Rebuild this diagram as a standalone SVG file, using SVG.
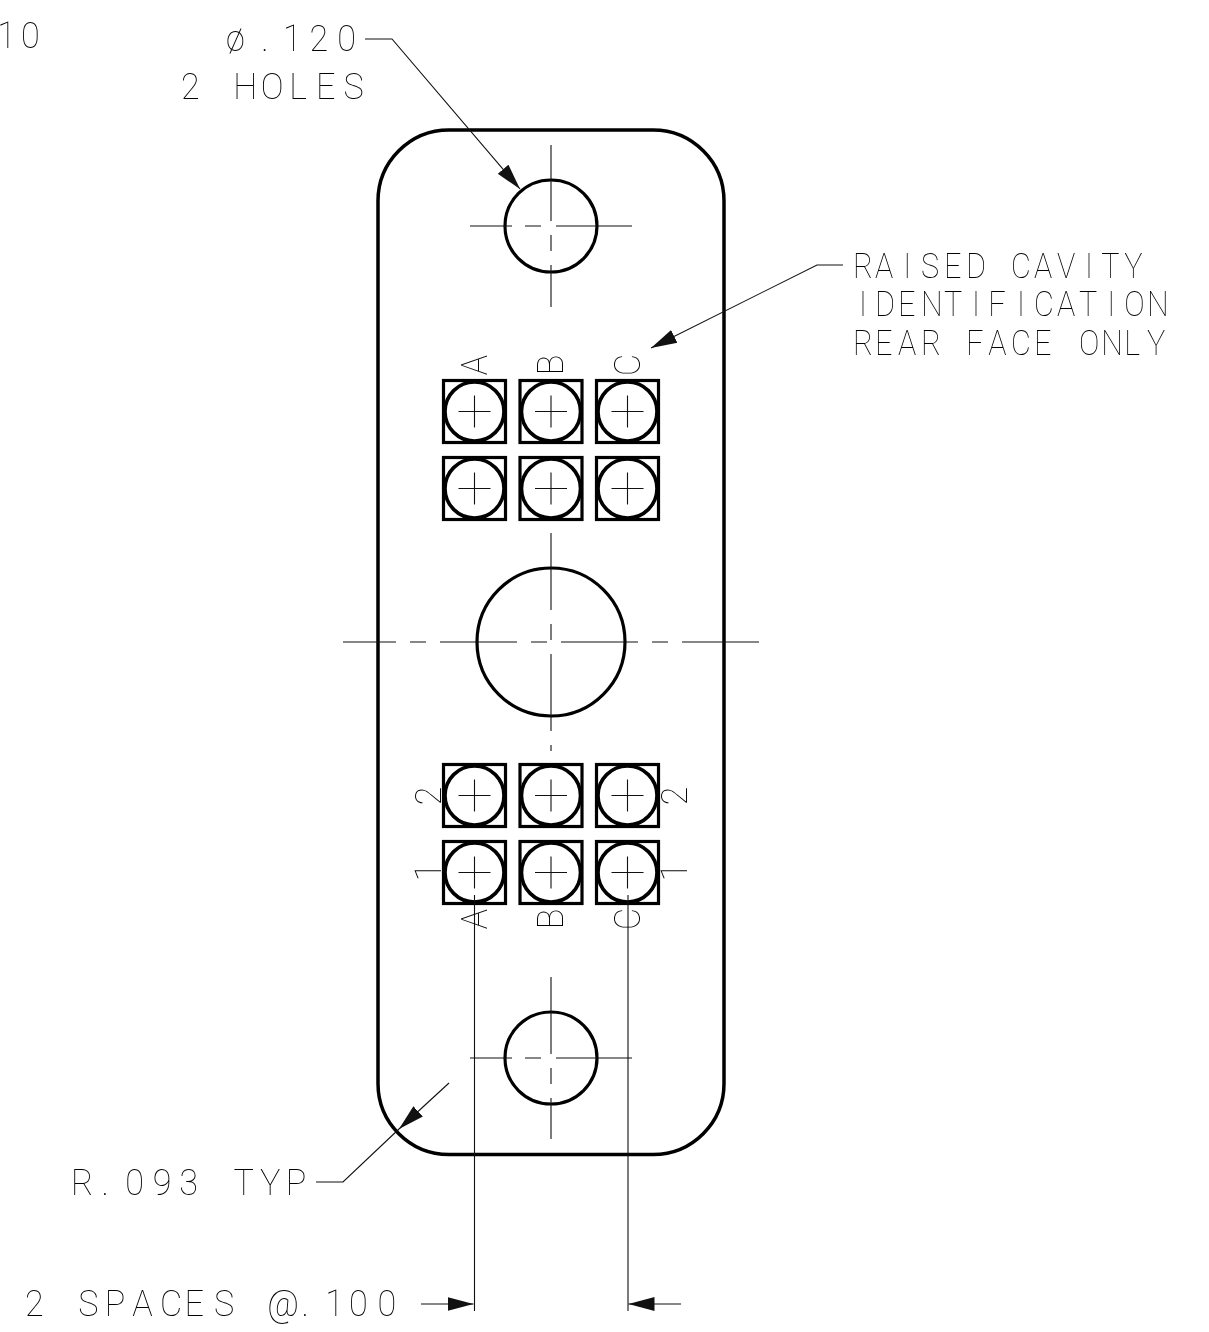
<svg xmlns="http://www.w3.org/2000/svg" xmlns:xlink="http://www.w3.org/1999/xlink" width="1209" height="1332" viewBox="0 0 1209 1332">
<style>
text{font-family:"Roboto","Liberation Sans",sans-serif;font-weight:100;font-size:36px;fill:#000}
.o{fill:none;stroke:#000;stroke-width:3.2}
.t{fill:none;stroke:#111;stroke-width:1.1}
#labels{opacity:.99}
</style>
<defs>
<marker id="head" markerUnits="userSpaceOnUse" markerWidth="30" markerHeight="20" refX="26" refY="8" orient="auto"><path d="M0 1L26 8L0 15Z" fill="#111"/></marker>
<g id="cav"><rect class="o" x="-31" y="-31" width="62" height="62"/><circle class="o" cx="0" cy="0" r="29.500" style="stroke-width:3.6"/><path class="t" d="M-16 0H16M0-16V16"/></g>
</defs>
<rect width="1209" height="1332" fill="#fff"/>
<g id="plate"><rect class="o" x="378" y="130" width="346" height="1024.500" rx="71" ry="71" style="stroke-width:3.5"/></g>
<g id="hole-top"><circle class="o" cx="551" cy="226" r="46"/><path class="t" d="M470 226H512M525 226H541M556 226H632M551 145V221M551 235V251M551 265V307"/></g>
<g id="hole-center"><circle class="o" cx="551" cy="642" r="74"/><path class="t" d="M343 642H396M410 642H426M440 642H517M531 642H547M561 642H638M652 642H668M682 642H759M551 533V610M551 624V640M551 654V731M551 745V751"/></g>
<g id="hole-bottom"><circle class="o" cx="551" cy="1058" r="46"/><path class="t" d="M470 1058H512M525 1058H541M556 1058H632M551 977V1054M551 1068V1084M551 1098V1139"/></g>
<g id="cavities">
<use href="#cav" x="474.500" y="411.500"/><use href="#cav" x="551" y="411.500"/><use href="#cav" x="627.500" y="411.500"/>
<use href="#cav" x="474.500" y="488.500"/><use href="#cav" x="551" y="488.500"/><use href="#cav" x="627.500" y="488.500"/>
<use href="#cav" x="474.500" y="795.500"/><use href="#cav" x="551" y="795.500"/><use href="#cav" x="627.500" y="795.500"/>
<use href="#cav" x="474.500" y="872.500"/><use href="#cav" x="551" y="872.500"/><use href="#cav" x="627.500" y="872.500"/>
</g>
<g id="connectors">
<path class="t" d="M365 39H392L520 189" marker-end="url(#head)"/>
<path class="t" d="M843 265H817L651 348" marker-end="url(#head)"/>
<path class="t" d="M316 1182H343L399 1129"/>
<path class="t" d="M449 1083L399 1129" marker-end="url(#head)"/>
<path class="t" d="M474.500 895V1311M628 895V1311"/>
<path class="t" d="M421 1304H473.500" marker-end="url(#head)"/>
<path class="t" d="M681 1304H628.500" marker-end="url(#head)"/>
</g>
<g id="labels">
<text transform="translate(0 48) scale(.95 1)" x="-3 22">10</text>
<text transform="translate(226 51) scale(.95 1)" x="0 37 60 88 117">ø.120</text>
<text transform="translate(181 99) scale(.95 1)" x="0 28 55 84 114 142 171">2 HOLES</text>
<text transform="translate(71 1195) scale(.95 1)" x="0 32 57 86 114 142 171 199 226">R.093 TYP</text>
<text transform="translate(25 1316) scale(.95 1)" x="0 27 56 84 113 142 168 199 228 255 291 316 341 371">2 SPACES @.100</text>
<text transform="translate(853 278) scale(.85 1)" x="0 26 59 80 107 133 160 186 213 240 273 292 319">RAISED CAVITY</text>
<text transform="translate(853 316) scale(.85 1)" x="7 26 53 80 107 140 159 193 213 240 266 299 319 346">IDENTIFICATION</text>
<text transform="translate(853 355) scale(.85 1)" x="0 26 53 80 107 133 159 186 213 240 266 292 319 346">REAR FACE ONLY</text>
<g text-anchor="middle">
<text transform="translate(487 365) rotate(-90) scale(.95 1)">A</text>
<text transform="translate(563 365) rotate(-90) scale(.95 1)">B</text>
<text transform="translate(640 365) rotate(-90) scale(.95 1)">C</text>
<text transform="translate(487 919) rotate(-90) scale(.95 1)">A</text>
<text transform="translate(563 919) rotate(-90) scale(.95 1)">B</text>
<text transform="translate(640 919) rotate(-90) scale(.95 1)">C</text>
<text transform="translate(441 796) rotate(-90) scale(.95 1)">2</text>
<text transform="translate(687 796) rotate(-90) scale(.95 1)">2</text>
<text transform="translate(441 872) rotate(-90) scale(.95 1)">1</text>
<text transform="translate(687 872) rotate(-90) scale(.95 1)">1</text>
</g>
</g>
</svg>
